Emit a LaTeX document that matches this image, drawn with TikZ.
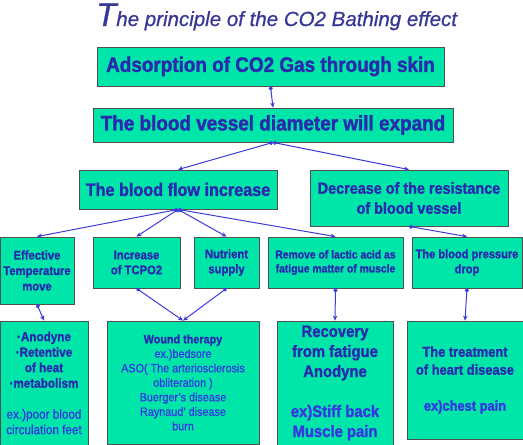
\documentclass[tikz,border=0pt]{standalone}
\usepackage{fontspec}
\usepackage{tikz}
\usetikzlibrary{arrows.meta}

\newfontfamily\diagfont{Liberation Sans}[FakeStretch=0.9,
  UprightFeatures={FakeBold=0.6}, BoldFeatures={FakeBold=1.6}]
\newfontfamily\titlefont{Liberation Sans}[ItalicFeatures={FakeBold=0.8}]

\definecolor{boxgreen}{RGB}{0,230,168}
\definecolor{boxgray}{RGB}{80,80,80}
\definecolor{txtblue}{RGB}{42,42,175}
\definecolor{exblue}{RGB}{55,55,225}
\definecolor{titleblue}{RGB}{55,55,150}
\definecolor{linkblue}{RGB}{60,60,215}

\tikzset{
  box/.style={draw=boxgray, fill=boxgreen, line width=0.8pt, inner sep=0pt,
    align=center, text=txtblue, font=\diagfont\bfseries},
  link/.style={draw=linkblue, line width=1pt,
    {Circle[length=4pt]}-{Stealth[length=5pt,width=4.5pt]}},
}
\newcommand{\ex}[1]{{\mdseries\color{exblue}#1}}

\begin{document}
\begin{tikzpicture}[x=1pt, y=-1pt]
\useasboundingbox (0,0) rectangle (523,445);
% title
\node[anchor=base west, inner sep=0pt, text=titleblue, font=\titlefont\itshape] (title) at (96,26)
  {{\fontsize{33}{33}\selectfont T}{\fontsize{20.5}{22}\selectfont he principle of the CO2 Bathing effect}};
% upper boxes
\node[box, minimum width=347, minimum height=39, font=\diagfont\bfseries\fontsize{21}{24}\selectfont] (adsorb) at (270.5,66.5) {Adsorption of CO2 Gas through skin};
\node[box, minimum width=360, minimum height=34, font=\diagfont\bfseries\fontsize{21}{24}\selectfont] (vessel) at (273,125) {The blood vessel diameter will expand};
\node[box, minimum width=198, minimum height=39, font=\diagfont\bfseries\fontsize{18}{20}\selectfont] (flow) at (178,189.5) {The blood flow increase};
\node[box, minimum width=198, minimum height=56, font=\diagfont\bfseries\fontsize{16}{20}\selectfont] (resist) at (409,198) {Decrease of the resistance\\of blood vessel};
% middle row
\node[box, minimum width=74, minimum height=67, font=\diagfont\bfseries\fontsize{12.5}{15.5}\selectfont] (temp) at (37,270.5) {Effective\\Temperature\\move};
\node[box, minimum width=87, minimum height=51, font=\diagfont\bfseries\fontsize{12.5}{15}\selectfont] (tcpo) at (136.5,262.5) {Increase\\of TCPO2};
\node[box, minimum width=65, minimum height=51, font=\diagfont\bfseries\fontsize{12.5}{15}\selectfont] (nutri) at (226.5,262.5) {Nutrient\\supply};
\node[box, minimum width=135, minimum height=51, font=\diagfont\bfseries\fontsize{11.5}{14}\selectfont] (lactic) at (335.5,262.5) {Remove of lactic acid as\\fatigue matter of muscle};
\node[box, minimum width=110, minimum height=51, font=\diagfont\bfseries\fontsize{12.3}{15}\selectfont] (press) at (467,262.5) {The blood pressure\\drop};
% lower row
\node[box, minimum width=88, minimum height=124, font=\diagfont\bfseries\fontsize{13}{15.5}\selectfont] (anody) at (44,383) {·Anodyne\\·Retentive\\of heat\\·metabolism\\[15.5pt]\ex{ex.)poor blood}\\\ex{circulation feet}};
\node[box, minimum width=152, minimum height=123, font=\diagfont\bfseries\fontsize{12}{14.5}\selectfont] (wound) at (183,382.5) {Wound therapy\\\ex{ex.)bedsore}\\\ex{ASO( The arteriosclerosis}\\\ex{obliteration )}\\\ex{Buerger’s disease}\\\ex{Raynaud’ disease}\\\ex{burn}};
\node[box, minimum width=116, minimum height=124, font=\diagfont\bfseries\fontsize{16.5}{20}\selectfont] (recov) at (335,383) {Recovery\\from fatigue\\Anodyne\\[20pt]{\color{exblue}ex)Stiff back}\\{\color{exblue}Muscle pain}};
\node[box, minimum width=116, minimum height=118, font=\diagfont\bfseries\fontsize{14.3}{18}\selectfont] (heart) at (465,380) {The treatment\\of heart disease\\[18pt]{\color{exblue}ex)chest pain}};
% connectors
\foreach \a/\b in {adsorb/vessel, vessel/flow, vessel/resist, flow/temp, flow/tcpo, flow/nutri, flow/lactic,
  resist/press, temp/anody, tcpo/wound, nutri/wound, lactic/recov, press/heart}
  \draw[link] (\a.south) -- (\b.north);
\end{tikzpicture}
\end{document}
